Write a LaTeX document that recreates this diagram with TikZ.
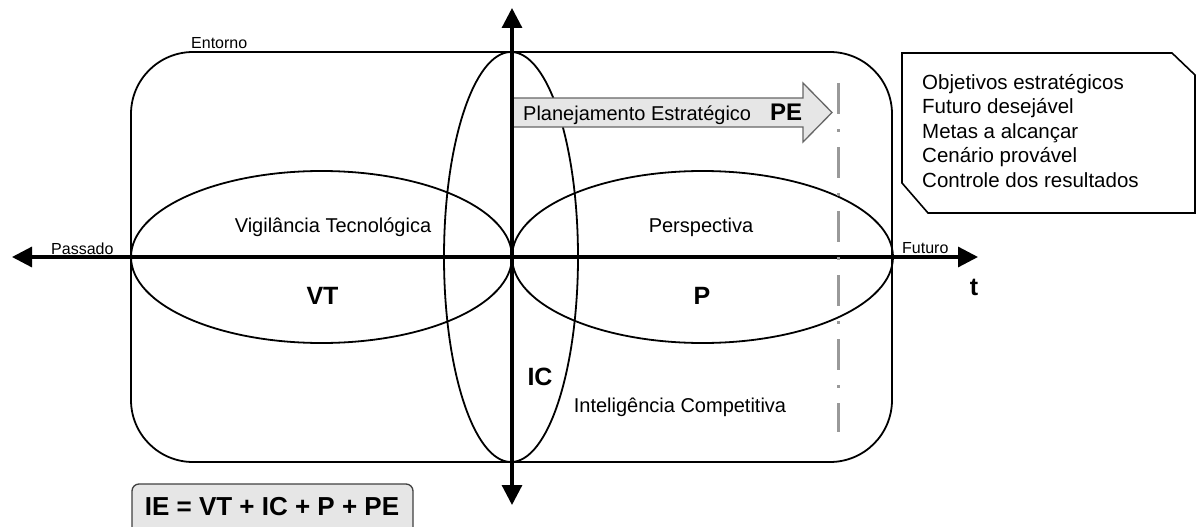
\documentclass[tikz,border=0pt]{standalone}
\usepackage{fontspec}
\setmainfont{Liberation Sans}
\usetikzlibrary{arrows.meta,shapes.geometric}
\definecolor{boxfill}{HTML}{E6E6E6}
\definecolor{dashgray}{HTML}{999999}
\tikzset{
  shp/.style={draw=black, line width=1.8pt},
  lbl/.style={inner sep=0pt, anchor=base, font=\fontsize{20}{24}\selectfont},
  lblw/.style={inner sep=0pt, anchor=base west, font=\fontsize{20}{24}\selectfont},
  bigl/.style={inner sep=0pt, anchor=base, font=\fontsize{25}{30}\selectfont\bfseries},
  smalll/.style={inner sep=0pt, anchor=base west, font=\fontsize{16}{19}\selectfont},
  axisline/.style={line width=3.2pt, {Triangle[length=20pt,width=20pt]}-{Triangle[length=20pt,width=20pt]}},
  dashdot/.style={draw=dashgray, line width=3pt, dash pattern=on 31pt off 15pt on 3pt off 15pt},
}
\begin{document}
\begin{tikzpicture}[x=1pt,y=-1pt]
\useasboundingbox (0,0) rectangle (1197,527);
% environment box
\node[shp, rectangle, rounded corners=62pt, minimum width=761pt, minimum height=410pt, inner sep=0pt] (env) at (511.5,257) {};
% ellipses
\node[shp, ellipse, minimum width=381pt, minimum height=172pt, inner sep=0pt] (vt) at (321.5,257) {};
\node[shp, ellipse, minimum width=381pt, minimum height=172pt, inner sep=0pt] (pp) at (702.5,257) {};
\node[shp, ellipse, minimum width=134pt, minimum height=410pt, inner sep=0pt] (ic) at (511,257) {};
% PE arrow
\draw[draw=black!60, fill=boxfill, line width=1.3pt]
  (513,98) -- (803,98) -- (803,83) -- (832,112.5) -- (803,142) -- (803,127) -- (513,127) -- cycle;
\node[lblw] (pel) at (523,120) {Planejamento Estratégico};
\node[inner sep=0pt, anchor=base west, font=\fontsize{24}{28}\selectfont\bfseries] (pe) at (770,120.5) {PE};
% axes
\coordinate (past) at (12,257);
\coordinate (fut) at (978,257);
\coordinate (top) at (512,8);
\coordinate (bot) at (512,505);
\draw[axisline] (past) -- (fut);
\draw[axisline] (bot) -- (top);
% dash-dot line
\coordinate (d1) at (838,83);
\coordinate (d2) at (838,432);
\draw[dashdot] (d1) -- (d2);
% right box
\draw[shp, line width=1.6pt] (902,53) -- (1172,53) -- (1195,75) -- (1195,213) -- (928,213) -- (902,183) -- cycle;
\node[inner sep=0pt, anchor=base west, font=\fontsize{20.5}{24.5}\selectfont] (goals) at (922,89)
  {\begin{tabular}[t]{@{}l@{}}Objetivos estratégicos\\Futuro desejável\\Metas a alcançar\\Cenário provável\\Controle dos resultados\end{tabular}};
% labels
\node[smalll] (entl) at (191,49) {Entorno};
\node[smalll] (pasl) at (51,254) {Passado};
\node[smalll] (futl) at (902,253) {Futuro};
\node[bigl] (tl) at (974,295) {t};
\node[lbl] (vtl) at (333,232) {Vigilância Tecnológica};
\node[lbl] (ppl) at (701,232) {Perspectiva};
\node[bigl] (vtb) at (322.5,304) {VT};
\node[bigl] (ppb) at (702,304) {P};
\node[bigl] (icb) at (540,385) {IC};
\node[lbl] (icl) at (680,412) {Inteligência Competitiva};
% formula box
\draw[draw=black!75, fill=boxfill, line width=1.3pt, rounded corners=7pt] (132,484) rectangle (413,535);
\node[inner sep=0pt, anchor=base, font=\fontsize{26}{30}\selectfont\bfseries] (ie) at (272,515) {IE = VT + IC + P + PE};
\end{tikzpicture}
\end{document}
